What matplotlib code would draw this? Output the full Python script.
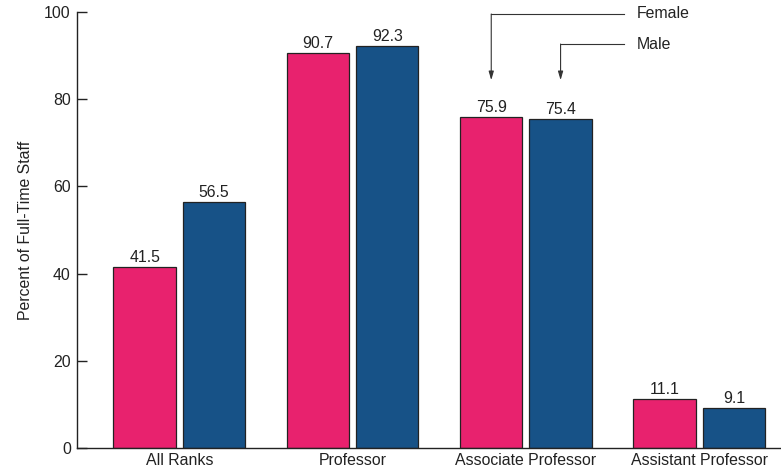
import matplotlib.pyplot as plt
import numpy as np

plt.rcParams["font.family"] = ["Liberation Sans", "DejaVu Sans"]
plt.rcParams["font.size"] = 11.4

categories = ["All Ranks", "Professor", "Associate Professor", "Assistant Professor"]
female = [41.5, 90.7, 75.9, 11.1]
male = [56.5, 92.3, 75.4, 9.1]

pink = "#E8226E"
blue = "#175287"

fig = plt.figure(figsize=(7.81, 4.71), dpi=100)
ax = fig.add_axes([0.0986, 0.0495, 0.8999, 0.9245])

x = np.arange(len(categories))
offset = 0.2
width = 0.36

b1 = ax.bar(x - offset, female, width, color=pink, edgecolor="#222222", linewidth=0.9)
b2 = ax.bar(x + offset, male, width, color=blue, edgecolor="#222222", linewidth=0.9)

for bars, vals in [(b1, female), (b2, male)]:
    for rect, v in zip(bars, vals):
        ax.annotate(f"{v:.1f}", (rect.get_x() + rect.get_width() / 2, v),
                    xytext=(0, 1.5), textcoords="offset points",
                    ha="center", va="bottom", color="#222222")

ax.set_xlim(-0.59, 3.465)
ax.set_ylim(0, 100)
ax.set_yticks([0, 20, 40, 60, 80, 100])
ax.set_xticks(x, categories)
ax.tick_params(axis="y", direction="in", length=7, width=1, pad=4.5, colors="#222222")
ax.tick_params(axis="x", length=0, pad=4, colors="#222222")
ax.set_ylabel("Percent of Full-Time Staff", labelpad=8, color="#222222")
for s in ["top", "right"]:
    ax.spines[s].set_visible(False)
for s in ["left", "bottom"]:
    ax.spines[s].set_linewidth(1)
    ax.spines[s].set_color("#222222")

# legend callouts
arrow = dict(arrowstyle="-|>,head_length=0.45,head_width=0.13", color="#333333", lw=0.8,
             shrinkA=0, shrinkB=0)
for xpos, ylev, label in [(2 - offset, 99.6, "Female"), (2 + offset, 92.7, "Male")]:
    ax.plot([xpos, 2.565], [ylev, ylev], color="#333333", lw=0.8, clip_on=False)
    ax.annotate("", xy=(xpos, 84.4), xytext=(xpos, ylev), arrowprops=arrow)
    ax.text(2.64, ylev, label, va="center", ha="left", color="#222222")

fig.savefig("out.png", dpi=100)
